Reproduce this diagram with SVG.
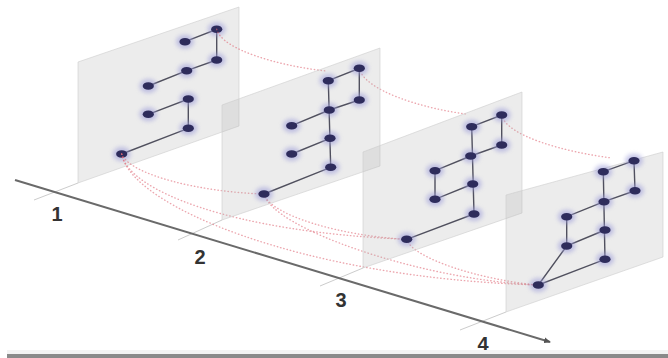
<svg xmlns="http://www.w3.org/2000/svg" width="668" height="358" viewBox="0 0 668 358">
<defs>
<style>
.plane{fill:#b4b4b4;fill-opacity:0.26;stroke:#cccccc;stroke-width:0.6}
.edge{stroke:#50505e;stroke-width:1.4;fill:none}
.arc{fill:none;stroke:#e06a78;stroke-width:1.4;stroke-dasharray:0.4 3;stroke-linecap:round;opacity:0.6}
.axis{stroke:#6a6a6a;stroke-width:2;fill:none}
.tick{stroke:#cccccc;stroke-width:1;fill:none}
.lbl{font-family:"Liberation Sans",Arial,sans-serif;font-size:20px;font-weight:bold;fill:#333;text-anchor:middle}
</style>
<filter id="glow" x="-100%" y="-100%" width="300%" height="300%">
<feGaussianBlur stdDeviation="2"/>
</filter>
<g id="nd">
<ellipse rx="9" ry="7" fill="#9a9ad8" opacity="0.55" filter="url(#glow)"/>
<ellipse rx="5.6" ry="3.8" fill="#2e2c5c"/>
</g>
<marker id="arr" markerWidth="8" markerHeight="6" refX="6" refY="3" orient="auto" markerUnits="userSpaceOnUse">
<path d="M0,0 L7,3 L0,6 Z" fill="#555"/>
</marker>
</defs>
<rect width="668" height="358" fill="#fff"/>

<g id="axis">
<line class="tick" x1="78" y1="183" x2="34" y2="200"/>
<line class="tick" x1="222" y1="220" x2="178" y2="240"/>
<line class="tick" x1="363" y1="268" x2="320" y2="286"/>
<line class="tick" x1="506" y1="312" x2="460" y2="330"/>
<line class="axis" x1="15" y1="180" x2="550" y2="342" marker-end="url(#arr)"/>
<text class="lbl" x="57" y="221">1</text>
<text class="lbl" x="200" y="264">2</text>
<text class="lbl" x="341" y="307">3</text>
<text class="lbl" x="483" y="351">4</text>
</g>

<g id="slice1">
<polygon class="plane" points="78,62 239,7 239,126 78,183"/>
<path class="edge" d="M185,41.7 L216.7,29.3 L216.7,60 L186.7,70.7 L148.3,86 M148.3,114.3 L188.3,99 L188.3,128.3 L121.7,154"/>
<use href="#nd" x="216.7" y="29.3"/><use href="#nd" x="185" y="41.7"/><use href="#nd" x="216.7" y="60"/>
<use href="#nd" x="186.7" y="70.7"/><use href="#nd" x="148.3" y="86"/><use href="#nd" x="188.3" y="99"/>
<use href="#nd" x="148.3" y="114.3"/><use href="#nd" x="188.3" y="128.3"/><use href="#nd" x="121.7" y="154"/>
</g>

<g id="connectors">
<path class="arc" d="M216.7,29.3 C222,50 280,66 326,71"/>
<path class="arc" d="M359.3,68.3 C364,90 420,108 466,114"/>
<path class="arc" d="M501.7,115 C506,136 565,152 612,158"/>
<path class="arc" d="M121.7,154 C130,175 200,192 264,194"/>
<path class="arc" d="M121.7,154 C128,190 230,232 406.7,239.3"/>
<path class="arc" d="M121.7,154 C130,205 300,278 538.3,285"/>
<path class="arc" d="M264,194 C270,215 340,236 406.7,239.3"/>
<path class="arc" d="M264,194 C272,228 420,280 538.3,285"/>
<path class="arc" d="M406.7,239.3 C412,258 480,280 538.3,285"/>
</g>

<g id="slice2">
<polygon class="plane" points="222,105 380,48 380,166 222,220"/>
<path class="edge" d="M328.3,80.7 L359.3,68.3 L359.3,100 L329.3,110 L291.7,125.7 M328.3,80.7 L330.7,167.3 L264,194 M330,138.3 L291.7,154"/>
<use href="#nd" x="359.3" y="68.3"/><use href="#nd" x="328.3" y="80.7"/><use href="#nd" x="359.3" y="100"/>
<use href="#nd" x="329.3" y="110"/><use href="#nd" x="291.7" y="125.7"/><use href="#nd" x="330" y="138.3"/>
<use href="#nd" x="291.7" y="154"/><use href="#nd" x="330.7" y="167.3"/><use href="#nd" x="264" y="194"/>
</g>

<g id="slice3">
<polygon class="plane" points="363,152 522,92 522,213 363,268"/>
<path class="edge" d="M471.7,126.7 L501.7,115 L501.7,145 L470.7,156 L435,170.7 L435,199.3 L472.7,184 M471.7,126.7 L474,214 L406.7,239.3"/>
<use href="#nd" x="501.7" y="115"/><use href="#nd" x="471.7" y="126.7"/><use href="#nd" x="501.7" y="145"/>
<use href="#nd" x="470.7" y="156"/><use href="#nd" x="435" y="170.7"/><use href="#nd" x="472.7" y="184"/>
<use href="#nd" x="435" y="199.3"/><use href="#nd" x="474" y="214"/><use href="#nd" x="406.7" y="239.3"/>
</g>

<g id="slice4">
<polygon class="plane" points="506,195 663,152 663,257 506,312"/>
<path class="edge" d="M603.3,171.7 L634,160.7 L635,190.7 L604,201.7 L566.7,216.7 L566.7,246 L605,230 M603.3,171.7 L605,259.3 L538.3,285 L566.7,246"/>
<use href="#nd" x="634" y="160.7"/><use href="#nd" x="603.3" y="171.7"/><use href="#nd" x="635" y="190.7"/>
<use href="#nd" x="604" y="201.7"/><use href="#nd" x="566.7" y="216.7"/><use href="#nd" x="605" y="230"/>
<use href="#nd" x="566.7" y="246"/><use href="#nd" x="605" y="259.3"/><use href="#nd" x="538.3" y="285"/>
</g>

<rect x="7" y="350" width="661" height="4" fill="#f3f3f3"/>
<rect x="7" y="354" width="661" height="4" fill="#8a8a8a"/>
</svg>
